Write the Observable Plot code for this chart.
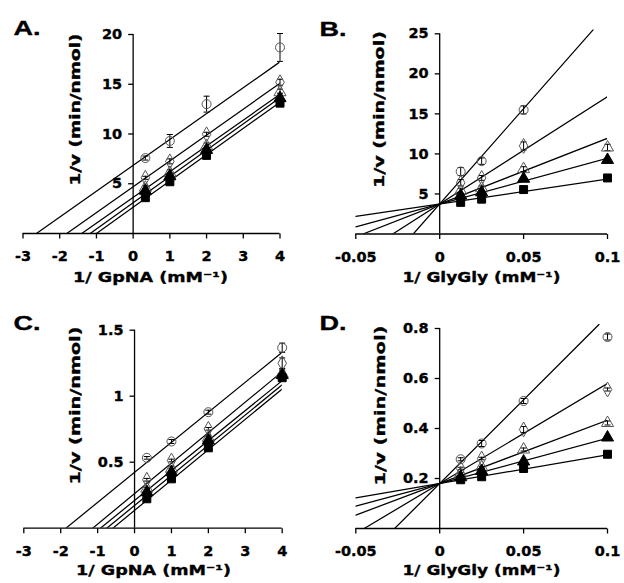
<!DOCTYPE html>
<html><head><meta charset="utf-8">
<script src="https://cdn.jsdelivr.net/npm/d3@7"></script>
<script src="https://cdn.jsdelivr.net/npm/@observablehq/plot@0.6"></script>
<style>
body{margin:0;background:#fff;}
#wrap{position:relative;width:624px;height:583px;background:#fff;}
.cell{position:absolute;}
</style></head><body><div id="wrap"></div>
<script>
// ---- shared categories ----
const gpnaX = [0.333, 1, 2, 4];            // 1/[GpNA] (mM^-1)
const glyX = [0.0125, 0.025, 0.05, 0.1];   // 1/[GlyGly] (mM^-1)
const seriesSymbols = ["circle", "diamond", "triangle", "triangle", "square"];
const seriesFills = ["none", "none", "none", "black", "black"];

const gpnaTicks = [-3, -2, -1, 0, 1, 2, 3, 4];
const gpnaTickLabels = ["-3", "-2", "-1", "0", "1", "2", "3", "4"];
const glyTicks = [-0.05, 0, 0.05, 0.1];
const glyTickLabels = ["-0.05", "0", "0.05", "0.1"];

// ---- Panel A ----
const aCircle = [7.58, 9.3, 13.0, 18.7];
const aDiamond = [5.6, 7.25, 9.97, 15.2];
const aOpenTri = [4.6, 6.1, 8.8, 14.2];
const aFilledTri = [4.3, 5.75, 8.4, 13.6];
const aSquare = [3.6, 5.2, 7.85, 13.1];
const aErrors = [[0.2, 0.65, 0.8, 1.4], [0.15, 0.25, 0.2, 0.3], [0.2, 0.3, 0.3, 0.3], [0.2, 0.4, 0.4, 0.5], [0.2, 0.2, 0.2, 0.3]];
const aSlopes = [2.6, 2.6, 2.59, 2.64, 2.64];
const aIntercepts = [6.85, 4.7, 3.63, 3.09, 2.64];
const aYTicks = [5, 10, 15, 20];

// ---- Panel B ----
const bCircle = [7.8, 9.1, 15.5, null];
const bDiamond = [6.4, 7.0, 11.0, null];
const bOpenTri = [5.4, 5.7, 8.1, 10.8];
const bFilledTri = [4.8, 5.2, 6.9, 9.25];
const bSquare = [3.95, 4.35, 5.55, 7.0];
const bErrors = [[0.5, 0.4, 0.5, 0], [0.4, 0.3, 0.5, 0], [0.3, 0.3, 0.3, 0.4], [0.2, 0.2, 0.2, 0.2], [0.2, 0.2, 0.2, 0.3]];
const bSlopes = [238, 134, 82, 57, 31];
const bIntercepts = [3.75, 3.75, 3.75, 3.75, 3.75];
const bYTicks = [5, 10, 15, 20, 25];

// ---- Panel C ----
const cCircle = [0.533, 0.657, 0.879, 1.367];
const cDiamond = [0.367, 0.513, 0.753, 1.25];
const cOpenTri = [0.30, 0.45, 0.685, 1.17];
const cFilledTri = [0.273, 0.424, 0.665, 1.16];
const cSquare = [0.223, 0.374, 0.609, 1.14];
const cErrors = [[0.01, 0.015, 0.015, 0.035], [0.01, 0.01, 0.01, 0.04], [0.01, 0.02, 0.02, 0.03], [0.02, 0.03, 0.03, 0.03], [0.01, 0.01, 0.01, 0.02]];
const cSlopes = [0.2275, 0.231, 0.227, 0.2285, 0.230];
const cIntercepts = [0.423, 0.262, 0.21, 0.172, 0.135];
const cYTicks = [0.5, 1, 1.5];
const cYTickLabels = ["0.5", "1", "1.5"];

// ---- Panel D ----
const dCircle = [0.277, 0.34, 0.51, 0.766];
const dDiamond = [0.24, 0.28, 0.396, 0.556];
const dOpenTri = [0.22, 0.245, 0.316, 0.422];
const dFilledTri = [0.205, 0.23, 0.268, 0.364];
const dSquare = [0.195, 0.207, 0.24, 0.297];
const dErrors = [[0.006, 0.012, 0.01, 0.012], [0.005, 0.005, 0.012, 0.006], [0.004, 0.004, 0.006, 0.008], [0.004, 0.004, 0.004, 0.004], [0.004, 0.004, 0.004, 0.004]];
const dSlopes = [6.7, 4.0, 2.53, 1.81, 1.15];
const dIntercepts = [0.18, 0.18, 0.18, 0.18, 0.18];
const dYTicks = [0.2, 0.4, 0.6, 0.8];
const dYTickLabels = ["0.2", "0.4", "0.6", "0.8"];

const yTitle = "1/v (min/nmol)";
const gpnaTitle = "1/ GpNA (mM\u207B\u00B9)";
const glyTitle = "1/ GlyGly (mM\u207B\u00B9)";

// ---- custom symbols ----
const capSym = {draw(ctx) { ctx.moveTo(-3, 0); ctx.lineTo(3, 0); }};
const xTickSym = {draw(ctx) { ctx.moveTo(0, 0); ctx.lineTo(0, 5); }};
const yTickSym = {draw(ctx) { ctx.moveTo(0, 0); ctx.lineTo(-5, 0); }};

const FONT = "'DejaVu Sans', Verdana, sans-serif";

function panel(cfg) {
  const W = 312, H = 291;
  const {ml, mr, mt, mb} = cfg;
  const [xmin, xmax] = cfg.xDomain;
  const ymaxFrame = cfg.yDomain[1];
  const points = [];
  cfg.series.forEach((vals, si) => {
    vals.forEach((v, i) => {
      if (v == null) return;
      points.push({s: si, x: cfg.xs[i], y: v, e: cfg.errors[si][i]});
    });
  });
  const lines = [];
  cfg.slopes.forEach((m, si) => {
    const b = cfg.intercepts[si];
    const x0 = Math.max(xmin, -b / m);
    const x1 = Math.min(xmax, (ymaxFrame - b) / m);
    lines.push({s: si, x: x0, y: b + m * x0});
    lines.push({s: si, x: x1, y: b + m * x1});
  });
  const errPts = points.filter(d => d.e > 0);
  const off = (tx, ty) => ({frameAnchor: "top-left", lineAnchor: "middle", dx: tx - ml, dy: ty - mt});
  const heavy = {fontWeight: "bold", fill: "black", stroke: "black", strokeWidth: 0.35};
  const tickStyle = {fontSize: 14.5, letterSpacing: "1.2px", ...heavy};
  const marks = [
    Plot.line(lines, {x: "x", y: "y", z: "s", stroke: "black", strokeWidth: 1.25, clip: true}),
    Plot.ruleY([0], {x1: xmin, x2: xmax, stroke: "black", strokeWidth: 1.3}),
    Plot.ruleX([0], {y1: 0, y2: cfg.yAxisTop, stroke: "black", strokeWidth: 1.3}),
    Plot.dot(cfg.xTicks, {x: d => d, y: 0, symbol: xTickSym, stroke: "black", strokeWidth: 1.3}),
    Plot.dot(cfg.yTicks, {x: 0, y: d => d, symbol: yTickSym, stroke: "black", strokeWidth: 1.3}),
    Plot.text(cfg.xTicks, {x: d => d, y: 0, dy: 23, text: (d, i) => cfg.xTickLabels[i], ...tickStyle}),
    Plot.text(cfg.yTicks, {x: 0, y: d => d, dx: -11, textAnchor: "end", text: (d, i) => cfg.yTickLabels[i], ...tickStyle}),
    Plot.ruleX(errPts, {x: "x", y1: d => d.y - d.e, y2: d => d.y + d.e, stroke: "black", strokeWidth: 1}),
    Plot.dot(errPts, {x: "x", y: d => d.y + d.e, symbol: capSym, stroke: "black", strokeWidth: 1}),
    Plot.dot(errPts, {x: "x", y: d => d.y - d.e, symbol: capSym, stroke: "black", strokeWidth: 1})
  ];
  seriesSymbols.forEach((sym, si) => {
    marks.push(Plot.dot(points.filter(d => d.s === si), {
      x: "x", y: "y", symbol: sym, r: 4.5,
      fill: seriesFills[si], stroke: seriesFills[si] === "none" ? "#555" : "black", strokeWidth: 1
    }));
  });
  marks.push(Plot.text([cfg.letter], {...off(cfg.letterPos[0], cfg.letterPos[1]), textAnchor: "start", fontSize: 21, fontFamily: "'Liberation Sans', Arial, sans-serif", ...heavy}));
  marks.push(Plot.text([cfg.xTitle], {...off(cfg.xTitlePos[0], cfg.xTitlePos[1]), textAnchor: "middle", fontSize: 14.5, ...heavy}));
  marks.push(Plot.text([yTitle], {...off(cfg.yTitlePos[0], cfg.yTitlePos[1]), textAnchor: "middle", rotate: -90, fontSize: 14.5, ...heavy}));
  const svg = Plot.plot({
    width: W, height: H,
    marginLeft: ml, marginRight: mr, marginTop: mt, marginBottom: mb,
    x: {domain: cfg.xDomain, axis: null},
    y: {domain: cfg.yDomain, axis: null},
    style: {fontFamily: FONT, background: "white", overflow: "visible"},
    marks
  });
  // stretch titles and panel letter to the reference text lengths
  d3.select(svg).selectAll("text").each(function() {
    const t = this.textContent;
    let len = null;
    if (t === cfg.xTitle) len = cfg.xTitleLen;
    else if (t === yTitle) len = cfg.yTitleLen;
    else if (t === cfg.letter) len = 27;
    if (len) d3.select(this).attr("textLength", len).attr("lengthAdjust", "spacingAndGlyphs");
  });
  const div = document.createElement("div");
  div.className = "cell";
  div.style.left = cfg.left + "px";
  div.style.top = cfg.top + "px";
  div.appendChild(svg);
  document.getElementById("wrap").appendChild(div);
}

panel({
  left: 0, top: 0, ml: 22.5, mr: 32.5, mt: 34, mb: 58,
  xDomain: [-3, 4], yDomain: [0, 20], yAxisTop: 20,
  xs: gpnaX, xTicks: gpnaTicks, xTickLabels: gpnaTickLabels,
  yTicks: aYTicks, yTickLabels: aYTicks.map(String),
  series: [aCircle, aDiamond, aOpenTri, aFilledTri, aSquare], errors: aErrors,
  slopes: aSlopes, intercepts: aIntercepts,
  letter: "A.", letterPos: [13, 28], xTitle: gpnaTitle, xTitlePos: [150, 277], xTitleLen: 155,
  yTitlePos: [75, 109], yTitleLen: 152
});
panel({
  left: 312, top: 0, ml: 43.3, mr: 17, mt: 29.3, mb: 57.5,
  xDomain: [-0.05, 0.1], yDomain: [0, 25.5], yAxisTop: 25,
  xs: glyX, xTicks: glyTicks, xTickLabels: glyTickLabels,
  yTicks: bYTicks, yTickLabels: bYTicks.map(String),
  series: [bCircle, bDiamond, bOpenTri, bFilledTri, bSquare], errors: bErrors,
  slopes: bSlopes, intercepts: bIntercepts,
  letter: "B.", letterPos: [7, 29], xTitle: glyTitle, xTitlePos: [169, 277], xTitleLen: 158,
  yTitlePos: [67, 109], yTitleLen: 157
});
panel({
  left: 0, top: 292, ml: 23.3, mr: 30.3, mt: 37.7, mb: 55.3,
  xDomain: [-3, 4], yDomain: [0, 1.5], yAxisTop: 1.5,
  xs: gpnaX, xTicks: gpnaTicks, xTickLabels: gpnaTickLabels,
  yTicks: cYTicks, yTickLabels: cYTickLabels,
  series: [cCircle, cDiamond, cOpenTri, cFilledTri, cSquare], errors: cErrors,
  slopes: cSlopes, intercepts: cIntercepts,
  letter: "C.", letterPos: [13, 31], xTitle: gpnaTitle, xTitlePos: [153, 278], xTitleLen: 155,
  yTitlePos: [75, 113], yTitleLen: 158
});
panel({
  left: 312, top: 292, ml: 43.3, mr: 17, mt: 32, mb: 55,
  xDomain: [-0.05, 0.1], yDomain: [0, 0.816], yAxisTop: 0.8,
  xs: glyX, xTicks: glyTicks, xTickLabels: glyTickLabels,
  yTicks: dYTicks, yTickLabels: dYTickLabels,
  series: [dCircle, dDiamond, dOpenTri, dFilledTri, dSquare], errors: dErrors,
  slopes: dSlopes, intercepts: dIntercepts,
  letter: "D.", letterPos: [7, 31], xTitle: glyTitle, xTitlePos: [169, 278], xTitleLen: 158,
  yTitlePos: [68, 113], yTitleLen: 160
});
</script></body></html>
